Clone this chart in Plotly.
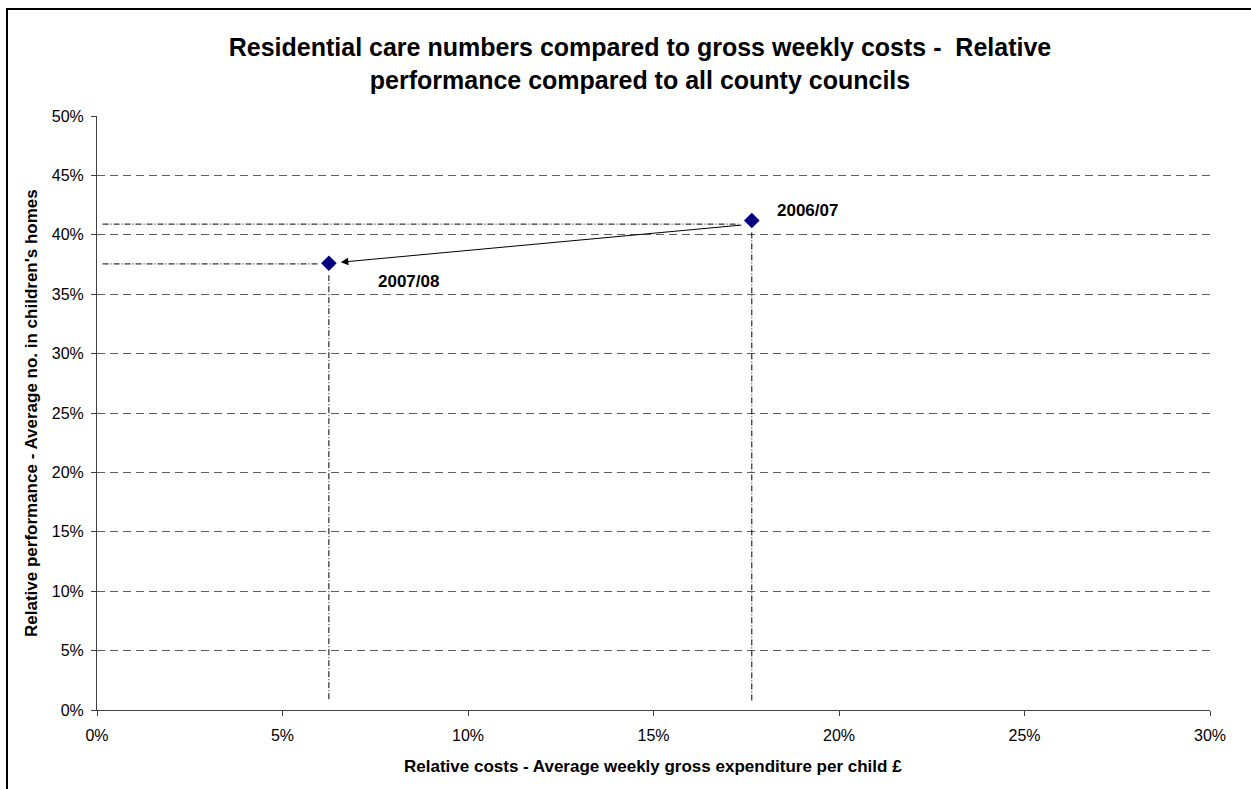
import plotly.graph_objects as go

# Relative position of the council for each year
years = ["2006/07", "2007/08"]
relative_costs = [17.65, 6.25]        # % – average weekly gross expenditure per child
relative_performance = [41.2, 37.6]   # % – average no. in children's homes

x_ticks = [0, 5, 10, 15, 20, 25, 30]
y_ticks = [0, 5, 10, 15, 20, 25, 30, 35, 40, 45, 50]

W, H = 1251, 789
L, R, T, B = 97, 41, 116, 79
PW, PH = W - L - R, H - T - B


def px_x(p):
    return (p - L) / PW


def px_y(p):
    return (H - B - p) / PH


FONT = "Liberation Sans, Arial, sans-serif"
DASHDOT = "6px,2px,1px,2px"

fig = go.Figure()

# Dash-dot drop lines from each point to the axes
for i, (cx, cy) in enumerate(zip(relative_costs, relative_performance)):
    hy = cy - (0.3 if i == 0 else 0.05)
    fig.add_shape(type="line", x0=0.15, x1=cx - 0.3, y0=hy, y1=hy,
                  line=dict(color="black", width=1, dash=DASHDOT))
    fig.add_shape(type="line", x0=cx, x1=cx, y0=cy - 1.0, y1=0.8,
                  line=dict(color="black", width=1, dash=DASHDOT))

fig.add_trace(go.Scatter(
    x=relative_costs, y=relative_performance, mode="markers",
    marker=dict(symbol="diamond", size=12, color="#000080",
                line=dict(width=0)),
    hoverinfo="skip", showlegend=False,
))

# Movement from 2006/07 to 2007/08
fig.add_annotation(
    x=relative_costs[1], y=relative_performance[1],
    ax=relative_costs[0], ay=relative_performance[0] - 0.3,
    xref="x", yref="y", axref="x", ayref="y",
    showarrow=True, arrowhead=2, arrowsize=1.5, arrowwidth=1,
    arrowcolor="black", standoff=12, startstandoff=9, text="",
)

label_offsets = [(23, -10), (47, 18)]
for yr, cx, cy, (dx, dy) in zip(years, relative_costs, relative_performance, label_offsets):
    fig.add_annotation(x=cx, y=cy, xref="x", yref="y", text=yr, showarrow=False,
                       xanchor="left", yanchor="middle", xshift=dx, yshift=-dy,
                       font=dict(family=FONT, size=17, color="black", weight="bold"))

# Axis titles
fig.add_annotation(x=px_x(653), y=px_y(766), xref="paper", yref="paper",
                   text="Relative costs - Average weekly gross expenditure per child £",
                   showarrow=False, xanchor="center", yanchor="middle",
                   font=dict(family=FONT, size=17, color="black", weight="bold"))
fig.add_annotation(x=px_x(31), y=px_y(413), xref="paper", yref="paper",
                   text="Relative performance - Average no. in children's homes",
                   showarrow=False, xanchor="center", yanchor="middle", textangle=-90,
                   font=dict(family=FONT, size=17, color="black", weight="bold"))

# Outer chart frame
fig.add_shape(type="rect", xref="paper", yref="paper",
              x0=px_x(7), x1=px_x(1265), y0=px_y(9), y1=px_y(800),
              line=dict(color="black", width=2), fillcolor="rgba(0,0,0,0)", layer="above")

axis_common = dict(
    showline=True, linecolor="#404040", linewidth=1,
    ticks="outside", ticklen=5, tickcolor="#404040", tickwidth=1,
    tickfont=dict(family=FONT, size=16, color="black"),
    zeroline=False, mirror=False,
)

fig.update_xaxes(range=[0, 30], tickvals=x_ticks,
                 ticktext=[f"{v}%" for v in x_ticks], showgrid=False,
                 ticklabelstandoff=6, **axis_common)
fig.update_yaxes(range=[0, 50], tickvals=y_ticks,
                 ticktext=[f"{v}%" for v in y_ticks], showgrid=True,
                 gridcolor="#606060", gridwidth=1, griddash="8px,5px",
                 ticklabelstandoff=4, **axis_common)

fig.update_layout(
    width=W, height=H, autosize=False,
    margin=dict(l=L, r=R, t=T, b=B),
    paper_bgcolor="white", plot_bgcolor="white",
    title=dict(
        text="Residential care numbers compared to gross weekly costs -  Relative<br>performance compared to all county councils",
        x=px_x(640), xref="paper", xanchor="center",
        y=1 - 56 / H, yref="container", yanchor="middle",
        font=dict(family=FONT, size=25, color="black", weight="bold"),
    ),
)

fig.write_html("out.html")
